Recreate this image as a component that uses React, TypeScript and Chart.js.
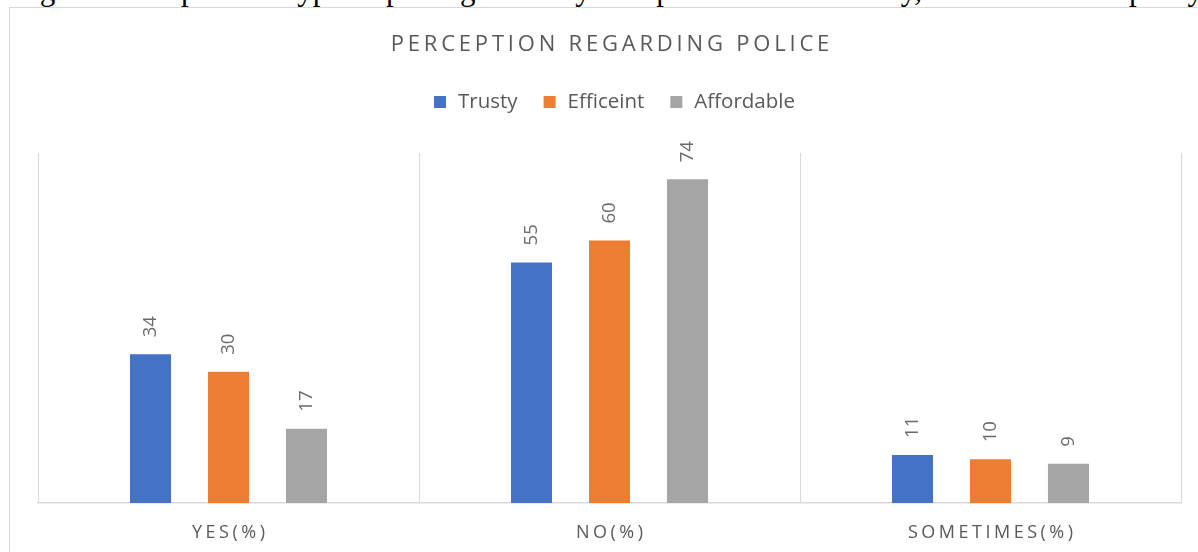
import React, { useEffect, useRef } from "react";
import { Chart, registerables } from "chart.js";

Chart.register(...registerables);

// ---- data ----
const CATEGORIES = ["YES(%)", "NO(%)", "SOMETIMES(%)"];
const SERIES_NAMES = ["Trusty", "Efficeint", "Affordable"];
const TRUSTY = [34, 55, 11];
const EFFICIENT = [30, 60, 10];
const AFFORDABLE = [17, 74, 9];
const SERIES_COLORS = ["#4472C4", "#ED7D31", "#A5A5A5"];
const TITLE = "PERCEPTION REGARDING POLICE";
const CAPTION =
  "Figure 5: Respondent types reporting that they find police as trustworthy, affordable and speedy";
const Y_MIN = 0;
const Y_MAX = 80;

const FONT = '"Open Sans", "Noto Sans", sans-serif';
const TEXT_COLOR = "#595959";

function drawSpaced(ctx: CanvasRenderingContext2D, text: string, cx: number, y: number, spacing: number) {
  const chars = Array.from(text);
  const widths = chars.map((c) => ctx.measureText(c).width);
  const total = widths.reduce((a, b) => a + b, 0) + spacing * (chars.length - 1);
  let x = cx - total / 2;
  ctx.textAlign = "left";
  chars.forEach((c, i) => {
    ctx.fillText(c, x, y);
    x += widths[i] + spacing;
  });
}

const decorPlugin = {
  id: "decor",
  afterDatasetsDraw(chart: any) {
    const ctx: CanvasRenderingContext2D = chart.ctx;
    ctx.save();
    // data labels (rotated)
    ctx.fillStyle = "#6b6b6b";
    ctx.font = `18.5px ${FONT}`;
    ctx.textAlign = "left";
    ctx.textBaseline = "middle";
    chart.data.datasets.forEach((ds: any, di: number) => {
      const meta = chart.getDatasetMeta(di);
      meta.data.forEach((bar: any, i: number) => {
        ctx.save();
        ctx.translate(bar.x, bar.y - 17);
        ctx.rotate(-Math.PI / 2);
        ctx.fillText(String(ds.data[i]), 0, 0);
        ctx.restore();
      });
    });
    // category labels
    const xScale = chart.scales.x;
    ctx.fillStyle = TEXT_COLOR;
    ctx.font = `18px ${FONT}`;
    ctx.textBaseline = "alphabetic";
    chart.data.labels.forEach((lab: string, i: number) => {
      drawSpaced(ctx, lab, xScale.getPixelForValue(i), 538, 3.5);
    });
    // title
    ctx.font = `22px ${FONT}`;
    drawSpaced(ctx, TITLE, 610, 51, 3.8);
    // legend
    ctx.font = `20.5px ${FONT}`;
    const box = 12;
    const gap = 12;
    const itemGap = 26;
    const items = chart.data.datasets.map((ds: any) => ({
      label: ds.label,
      color: ds.backgroundColor,
      w: ctx.measureText(ds.label).width,
    }));
    const total =
      items.reduce((a: number, it: any) => a + box + gap + it.w, 0) + itemGap * (items.length - 1);
    let x = 614.5 - total / 2;
    items.forEach((it: any) => {
      ctx.fillStyle = it.color;
      ctx.fillRect(x, 96, box, box);
      x += box + gap;
      ctx.fillStyle = TEXT_COLOR;
      ctx.textAlign = "left";
      ctx.fillText(it.label, x, 108);
      x += it.w + itemGap;
    });
    ctx.restore();
  },
};

export default function App() {
  const ref = useRef<HTMLCanvasElement>(null);
  useEffect(() => {
    const series = [TRUSTY, EFFICIENT, AFFORDABLE];
    const chart = new Chart(ref.current as HTMLCanvasElement, {
      type: "bar",
      data: {
        labels: CATEGORIES,
        datasets: series.map((values, i) => ({
          label: SERIES_NAMES[i],
          data: values,
          backgroundColor: SERIES_COLORS[i],
          borderWidth: 0,
          categoryPercentage: 0.614,
          barPercentage: 0.526,
        })),
      },
      options: {
        responsive: false,
        animation: false,
        layout: { padding: { left: 38, right: 17, top: 153, bottom: 0 } },
        plugins: {
          legend: { display: false },
          title: { display: false },
          tooltip: { enabled: false },
        },
        scales: {
          x: {
            grid: { color: "#d9d9d9", lineWidth: 1, drawTicks: false, offset: true },
            border: { color: "#d9d9d9", width: 1.5 },
            ticks: { display: false },
            afterFit: (s: any) => {
              s.height = 49;
            },
          },
          y: { display: false, min: Y_MIN, max: Y_MAX },
        },
      } as any,
      plugins: [decorPlugin as any],
    });
    return () => chart.destroy();
  }, []);

  return (
    <div
      style={{
        position: "fixed",
        left: 0,
        top: 0,
        width: 1198,
        height: 552,
        overflow: "hidden",
        background: "#fff",
      }}
    >
      <div style={{ position: "absolute", left: 0, top: 0, width: 1198, height: 7, overflow: "hidden" }}>
        <div
          style={{
            position: "absolute",
            left: 14,
            top: -26,
            whiteSpace: "nowrap",
            font: '31px/31px "Liberation Serif", serif',
            color: "#000",
          }}
        >
          {CAPTION}
        </div>
      </div>
      <div
        style={{
          position: "absolute",
          left: 9,
          top: 7,
          width: 1400,
          height: 700,
          border: "1px solid #d9d9d9",
          boxSizing: "border-box",
        }}
      />
      <canvas
        ref={ref}
        width={1198}
        height={552}
        style={{ position: "absolute", left: 0, top: 0, width: 1198, height: 552 }}
      />
    </div>
  );
}
